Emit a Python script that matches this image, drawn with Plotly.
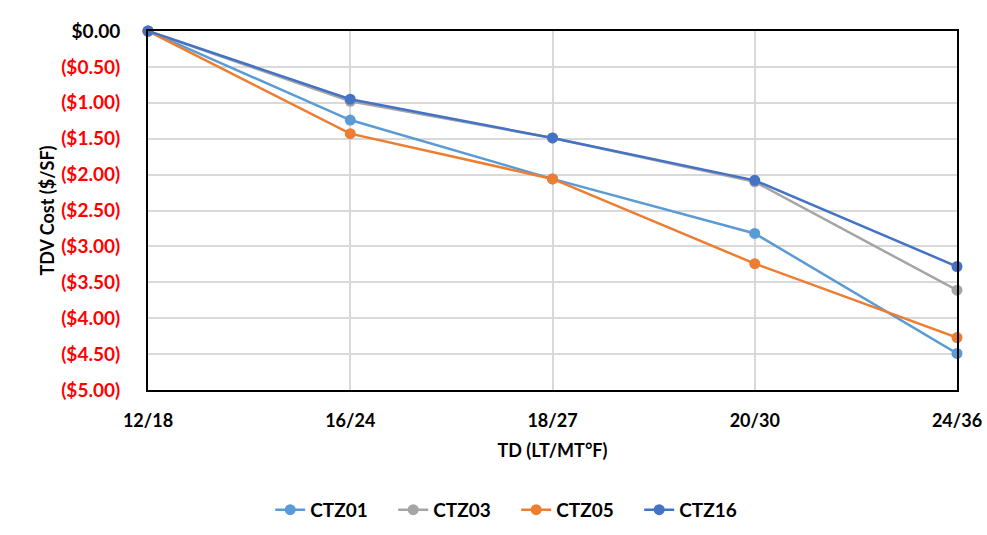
import plotly.graph_objects as go

categories = ["12/18", "16/24", "18/27", "20/30", "24/36"]
ctz01 = [0.0, -1.24, -2.06, -2.82, -4.49]
ctz03 = [0.0, -0.98, -1.49, -2.10, -3.61]
ctz05 = [0.0, -1.43, -2.06, -3.24, -4.27]
ctz16 = [0.0, -0.95, -1.49, -2.08, -3.28]
series_names = ["CTZ01", "CTZ03", "CTZ05", "CTZ16"]
colors = ["#5B9BD5", "#A5A5A5", "#ED7D31", "#4472C4"]

tick_vals = [0.0, -0.5, -1.0, -1.5, -2.0, -2.5, -3.0, -3.5, -4.0, -4.5, -5.0]
tick_labels = ["$0.00", "($0.50)", "($1.00)", "($1.50)", "($2.00)", "($2.50)",
               "($3.00)", "($3.50)", "($4.00)", "($4.50)", "($5.00)"]

tick_text = [t if v == 0 else "<span style='color:#FF0000'>" + t + "</span>"
             for v, t in zip(tick_vals, tick_labels)]

FONT = "Lato"

fig = go.Figure()
for name, vals, c in zip(series_names, [ctz01, ctz03, ctz05, ctz16], colors):
    fig.add_trace(go.Scatter(
        x=categories, y=vals, name=name, mode="lines+markers",
        line=dict(color=c, width=2.5),
        marker=dict(color=c, size=11),
        cliponaxis=False,
    ))

fig.update_layout(
    width=987, height=535,
    margin=dict(l=148, r=30, t=31, b=145, autoexpand=False),
    paper_bgcolor="white", plot_bgcolor="white",
    font=dict(family=FONT, size=18, color="black"),
    showlegend=True,
    legend=dict(orientation="h", xref="container", yref="container",
                x=0.523, xanchor="center", y=0.047, yanchor="middle",
                font=dict(family=FONT, size=19, color="black", weight="bold"),
                entrywidth=78, tracegroupgap=0),
    xaxis=dict(
        type="category", range=[0, 4], automargin=False,
        showgrid=True, gridcolor="#D9D9D9", gridwidth=1.5,
        showline=True, linecolor="black", linewidth=2, mirror=True,
        ticks="", ticklabelstandoff=13,
        tickfont=dict(family=FONT, size=18, color="black", weight="bold"),
        title=dict(text="<b>TD (LT/MT°F)</b>", font=dict(family=FONT, size=18, color="black"),
                   standoff=15),
        zeroline=False,
    ),
    yaxis=dict(
        range=[-5, 0], tickvals=tick_vals, ticktext=tick_text, automargin=False,
        showgrid=True, gridcolor="#D9D9D9", gridwidth=1.5,
        showline=True, linecolor="black", linewidth=2, mirror=True,
        ticks="", ticklabelstandoff=22,
        tickfont=dict(family=FONT, size=19, color="black", weight="bold"),
        title=dict(text="<b>TDV Cost ($/SF)</b>", font=dict(family=FONT, size=18, color="black"),
                   standoff=2),
        zeroline=False,
    ),
)

fig.write_html("out.html")
